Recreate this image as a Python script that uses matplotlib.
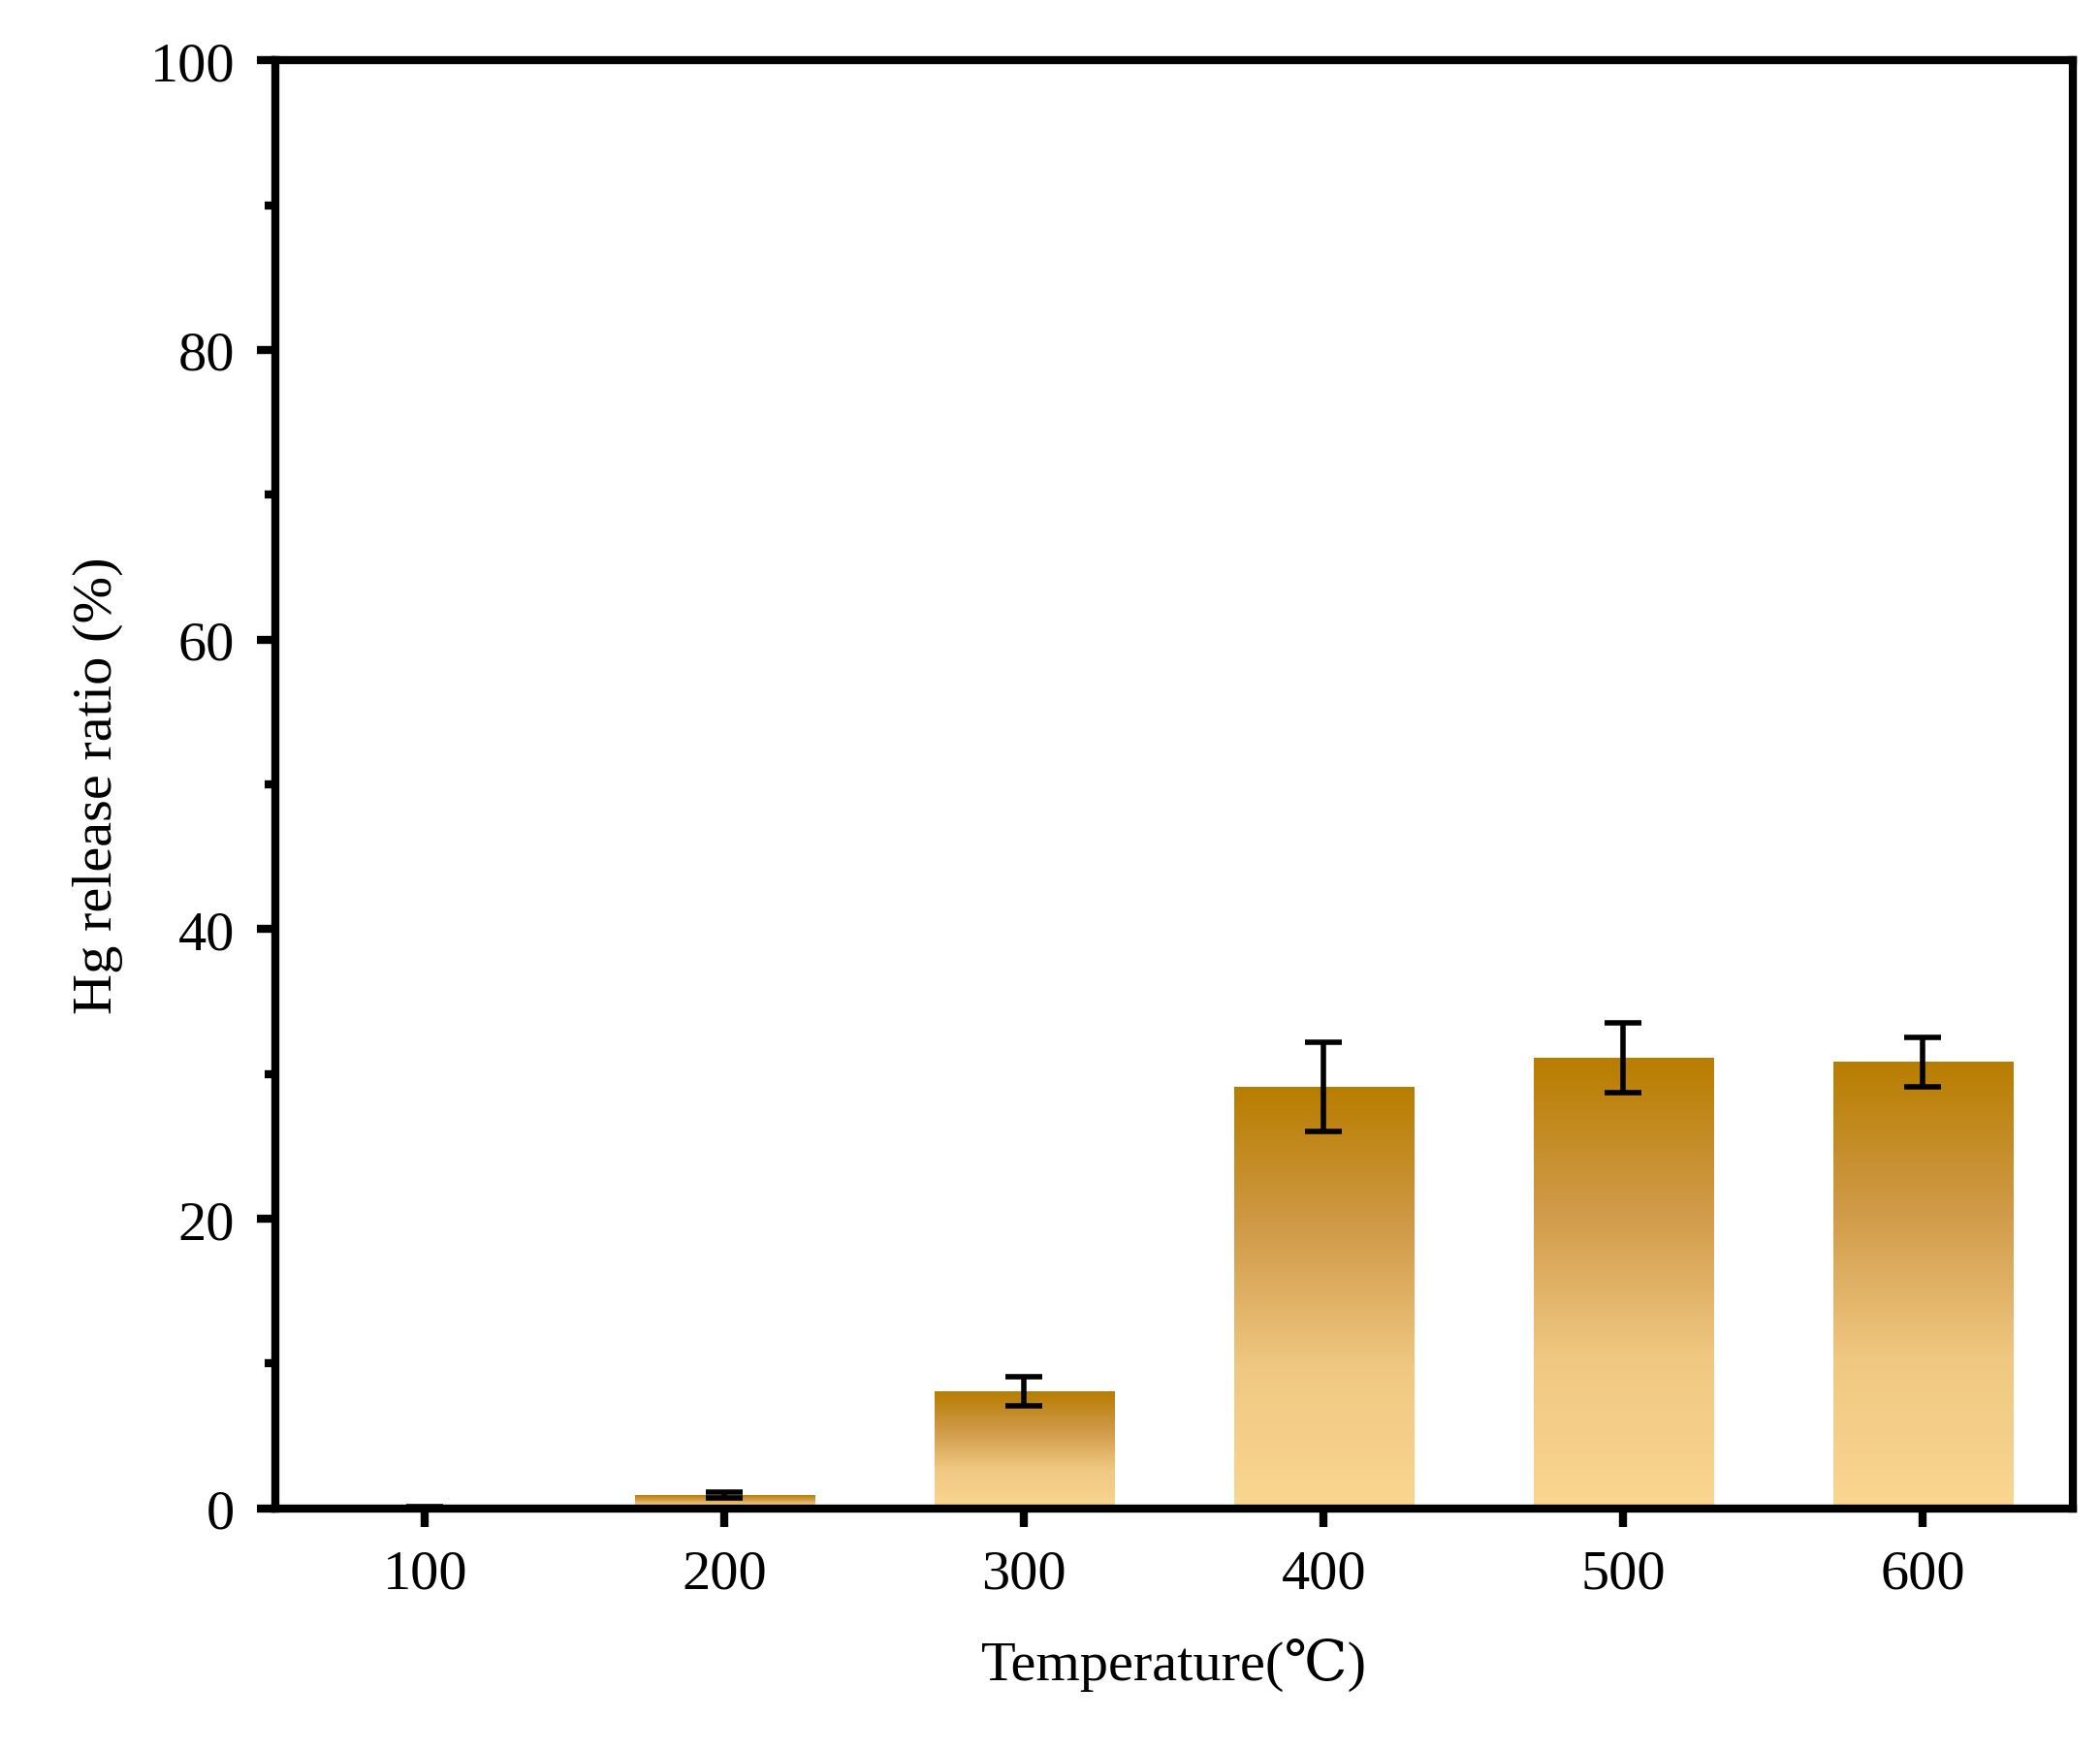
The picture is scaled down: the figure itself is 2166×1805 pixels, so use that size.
import matplotlib.pyplot as plt
import numpy as np
from matplotlib.colors import LinearSegmentedColormap
from matplotlib.ticker import MultipleLocator

plt.rcParams['font.family'] = ['Liberation Serif', 'DejaVu Serif']

temps = ['100', '200', '300', '400', '500', '600']
release = [0.05, 0.9, 8.1, 29.1, 31.1, 30.8]
errors = [0.05, 0.2, 1.0, 3.1, 2.4, 1.7]

cmap = LinearSegmentedColormap.from_list('gold', ['#FAD691', '#F0C882', '#D09A48', '#B87D00'])

fig = plt.figure(figsize=(10.83, 9.03), dpi=200)
ax = fig.add_axes([0.131, 0.138, 0.856, 0.827])

x = np.arange(len(temps))
width = 0.6
grad = np.linspace(0, 1, 256).reshape(-1, 1)
for xi, h in zip(x, release):
    ax.imshow(grad, cmap=cmap, aspect='auto', origin='lower',
              extent=(xi - width / 2, xi + width / 2, 0, h), zorder=2)
ax.errorbar(x, release, yerr=errors, fmt='none', ecolor='black',
            elinewidth=2, capsize=7, capthick=2, zorder=3)

ax.set_xlim(-0.5, len(temps) - 0.5)
ax.set_ylim(0, 100)
ax.set_xticks(x)
ax.set_xticklabels(temps)
ax.yaxis.set_major_locator(MultipleLocator(20))
ax.yaxis.set_minor_locator(MultipleLocator(10))

for s in ax.spines.values():
    s.set_linewidth(3)
ax.tick_params(which='major', direction='out', length=7, width=3, labelsize=21, pad=8)
ax.tick_params(which='minor', direction='out', length=4, width=3)
ax.set_xlabel('Temperature(\u2103)', fontsize=21, labelpad=14)
ax.set_ylabel('Hg release ratio (%)', fontsize=21, labelpad=10)

fig.savefig('out.png', dpi=200)
